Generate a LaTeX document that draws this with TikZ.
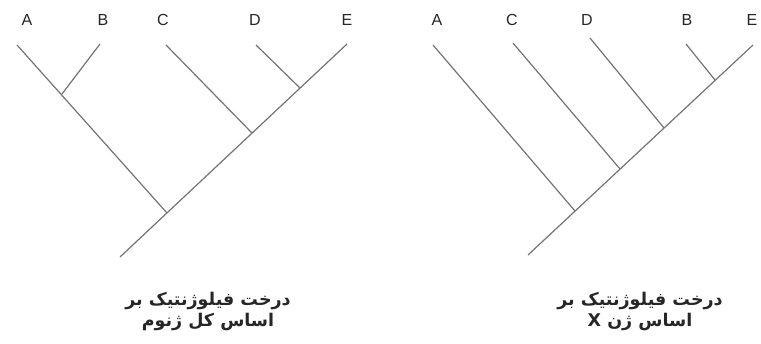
\documentclass[tikz,border=0pt]{standalone}
\usepackage{fontspec}
\setmainfont{Liberation Sans}
\newfontfamily\arabicfont[Script=Arabic]{DejaVu Sans}
\TeXXeTstate=1
\usetikzlibrary{positioning}

\begin{document}
\begin{tikzpicture}[x=1pt, y=-1pt,
  branch/.style={draw=black!55, line width=1.2pt},
  taxon/.style={font=\fontsize{16}{16}\selectfont, text=black!85, inner sep=0pt},
  caption/.style={font=\arabicfont\bfseries\fontsize{17.5}{21}\selectfont, align=center, text=black!85}]
\useasboundingbox (0,0) rectangle (761,343);

% whole genome tree
\node[taxon] (lA) at (27,20) {A};
\node[taxon] (lB) at (103,20) {B};
\node[taxon] (lC) at (163,20) {C};
\node[taxon] (lD) at (255,20) {D};
\node[taxon] (lE) at (347,20) {E};
\coordinate (tA) at (17,45);
\coordinate (tB) at (100,44);
\coordinate (tC) at (166,45);
\coordinate (tD) at (256,45);
\coordinate (tE) at (347,44);
\coordinate (jAB) at (62,94);
\coordinate (jDE) at (300,88);
\coordinate (jC) at (252,133);
\coordinate (jRoot) at (167,213);
\coordinate (root) at (120,257);

\draw[branch] (tA) -- (jRoot);
\draw[branch] (tB) -- (jAB);
\draw[branch] (tC) -- (jC);
\draw[branch] (tD) -- (jDE);
\draw[branch] (tE) -- (root);

\node[caption] (capL) at (208,311)
  {\beginR درخت فیلوژنتیک بر\endR\\\beginR اساس کل ژنوم\endR};

% gene X tree
\node[taxon] (rA) at (437,20) {A};
\node[taxon] (rC) at (512,20) {C};
\node[taxon] (rD) at (587,20) {D};
\node[taxon] (rB) at (687,20) {B};
\node[taxon] (rE) at (752,20) {E};
\coordinate (sA) at (433,45);
\coordinate (sC) at (513,43);
\coordinate (sD) at (590,38);
\coordinate (sB) at (686,44);
\coordinate (sE) at (753,45);
\coordinate (kB) at (715,80);
\coordinate (kD) at (664,128);
\coordinate (kC) at (620,169);
\coordinate (kA) at (575,211);
\coordinate (sRoot) at (528,255);

\draw[branch] (sA) -- (kA);
\draw[branch] (sC) -- (kC);
\draw[branch] (sD) -- (kD);
\draw[branch] (sB) -- (kB);
\draw[branch] (sE) -- (sRoot);

\node[caption] (capR) at (640,311)
  {\beginR درخت فیلوژنتیک بر\endR\\\beginR اساس ژن X\endR};
\end{tikzpicture}
\end{document}
